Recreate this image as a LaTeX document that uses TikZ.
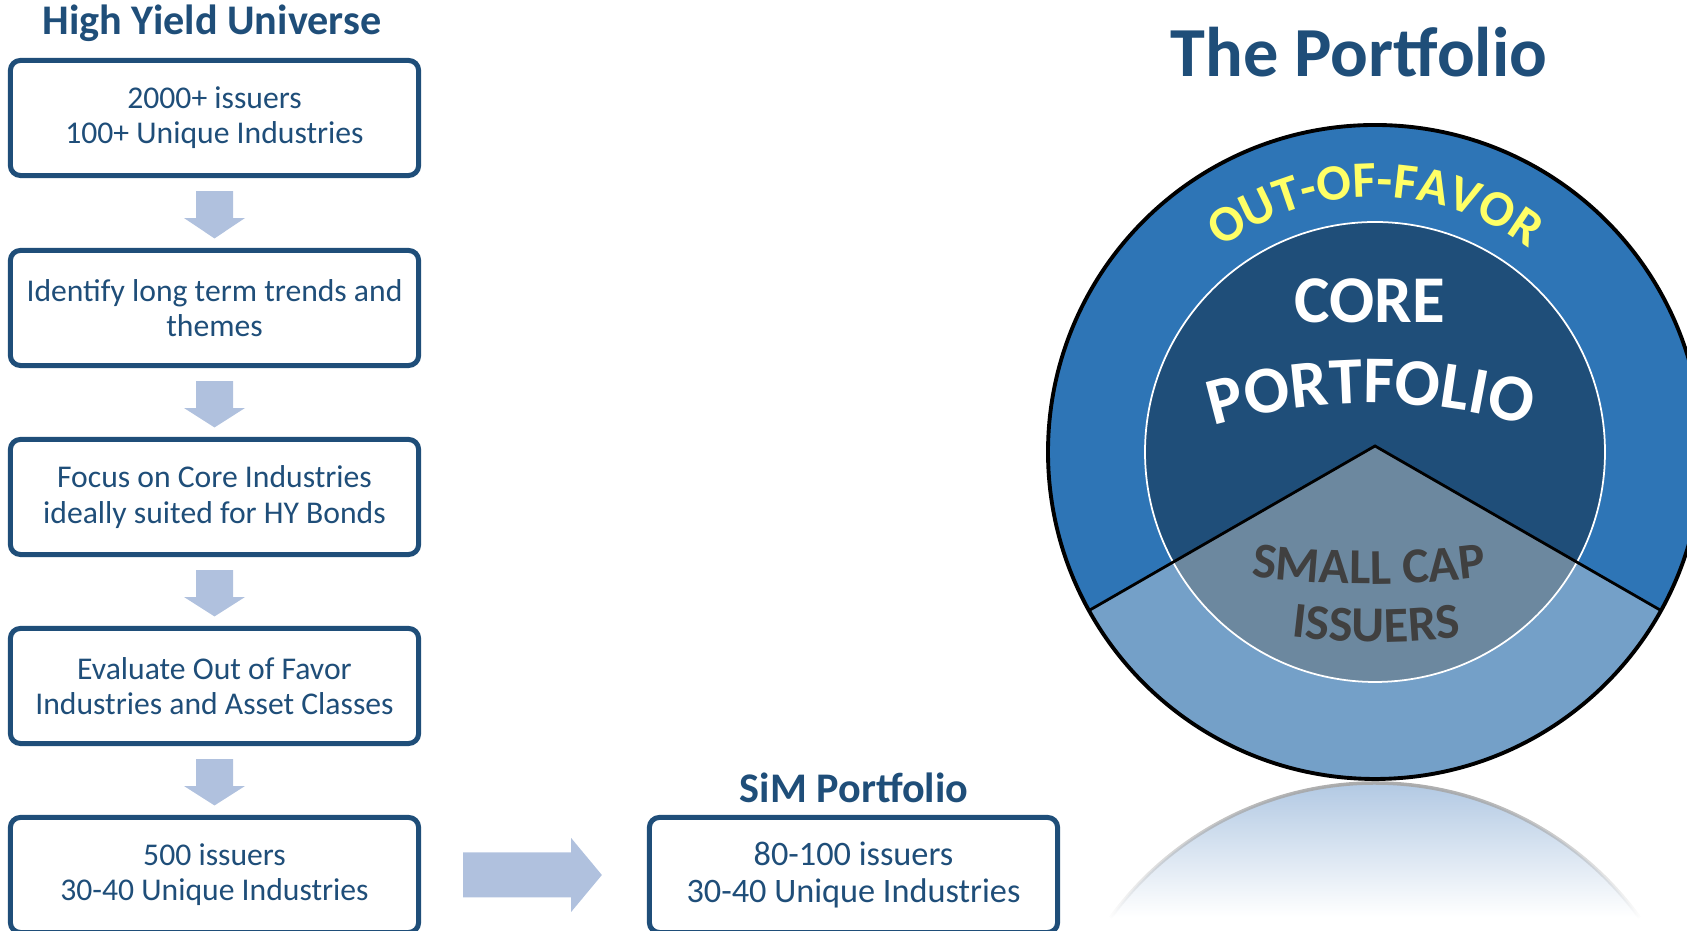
\documentclass[tikz,border=0pt]{standalone}
\usepackage{fontspec}
\setmainfont{Carlito}
\usetikzlibrary{calc,decorations.text,fadings}

\definecolor{boxblue}{HTML}{1F4E79}
\definecolor{arrowblue}{HTML}{B0C1DE}
\definecolor{ringblue}{HTML}{2E75B6}
\definecolor{coreblue}{HTML}{1F4E79}
\definecolor{lightring}{HTML}{74A0C8}
\definecolor{wedgegrey}{HTML}{6C889F}
\definecolor{favoryellow}{HTML}{FFFF66}
\definecolor{capgrey}{HTML}{404040}
\definecolor{reflblue}{HTML}{B2C9E3}

\tikzfading[name=fadedown, top color=transparent!0, bottom color=transparent!100]

\newcommand\favorfont{\fontsize{14.5}{14.5}\selectfont\bfseries}
\newcommand\corefont{\fontsize{19}{19}\selectfont\bfseries}
\newcommand\capfont{\fontsize{14.3}{14.3}\selectfont\bfseries}

\def\flowdown(#1)(#2){\fill[arrowfill] ($(#1.south)+(-18.5,-13)$) -- ($(#1.south)+(18.5,-13)$) -- ($(#1.south)+(18.5,-40)$) -- ($(#1.south)+(30.5,-40)$) -- ($(#2.north)+(0,9.5)$) -- ($(#1.south)+(-30.5,-40)$) -- ($(#1.south)+(-18.5,-40)$) -- cycle;}
\def\flowright(#1)(#2){\fill[arrowfill] ($(#1.east)+(42,22.5)$) -- ($(#1.east)+(150,22.5)$) -- ($(#1.east)+(150,37)$) -- ($(#2.west)+(-45,0)$) -- ($(#1.east)+(150,-37)$) -- ($(#1.east)+(150,-22.5)$) -- ($(#1.east)+(42,-22.5)$) -- cycle;}

\begin{document}
\begin{tikzpicture}[x=0.01cm, y=0.01cm,
	flowbox/.style={draw=boxblue, line width=1.42pt, rounded corners=0.1cm, fill=white, minimum width=4.08cm, minimum height=1.15cm, inner sep=0pt, align=center, text=boxblue, font=\fontsize{9}{10}\selectfont},
	headtext/.style={text=boxblue, font=\fontsize{12}{14}\selectfont\bfseries, anchor=base},
	arrowfill/.style={fill=arrowblue}]
			%%%%% START %%%%%
			
			\useasboundingbox (0, 0) rectangle (1687, 931);
			
			\node[headtext] (hytitle) at (212, 896) {High Yield Universe};
			\node[flowbox] (universe) at (214.5, 813) {2000+ issuers\\100+ Unique Industries};
			\node[flowbox] (trends) at (214.5, 623) {Identify long term trends and\\themes};
			\node[flowbox] (coreind) at (214.5, 434) {Focus on Core Industries\\ideally suited for HY Bonds};
			\node[flowbox] (outfavor) at (214.5, 245) {Evaluate Out of Favor\\Industries and Asset Classes};
			\node[flowbox] (shortlist) at (214.5, 56) {500 issuers\\30-40 Unique Industries};
			
			\flowdown(universe)(trends)
			\flowdown(trends)(coreind)
			\flowdown(coreind)(outfavor)
			\flowdown(outfavor)(shortlist)
			
			\node[headtext] (simtitle) at (854, 128) {SiM Portfolio};
			\node[flowbox, font=\fontsize{9.75}{10.5}\selectfont] (simport) at (853.5, 56) {80-100 issuers\\30-40 Unique Industries};
			\flowright(shortlist)(simport)
			
			\node[headtext, font=\fontsize{20}{22}\selectfont\bfseries] (porttitle) at (1359, 854) {The Portfolio};
			
			% circle
			\coordinate (C) at (1375, 479);
			\coordinate (A) at (1375, 485);
			\fill[ringblue] (C) circle (327);
			\fill[lightring] (A) -- ($(C)+(209:327)$) arc[start angle=209, end angle=331, radius=327] -- cycle;
			\fill[coreblue] (C) circle (230);
			\begin{scope}
				\clip (C) circle (230);
				\fill[wedgegrey] (A) -- ($(C)+(209:327)$) arc[start angle=209, end angle=331, radius=327] -- cycle;
			\end{scope}
			\draw[white, line width=0.5pt] (C) circle (230);
			\draw[black, line width=0.8pt] ($(C)+(209:327)$) -- (A) -- ($(C)+(331:327)$);
			\draw[black, line width=1.1pt] (C) circle (327);
			
			% reflection
			\coordinate (R) at (1375, -179);
			\begin{scope}
				\clip (R) circle (327);
				\shade[top color=reflblue, bottom color=white] (1040, 14) rectangle (1710, 148);
			\end{scope}
			\draw[gray!70, line width=1pt, path fading=fadedown] ($(R)+(36:327)$) arc[start angle=36, end angle=144, radius=327];
			
			% texts in the circle
			\path[decorate, decoration={text along path, text align=center, text color=favoryellow, text={|\favorfont|OUT-OF-FAVOR}}] ($(C)+(160:255)$) arc[start angle=160, end angle=20, radius=255];
			\node[white, font=\corefont, anchor=base] (coretext) at (1370, 608) {CORE};
			\path[decorate, decoration={text along path, text align=center, text color=white, text={|\corefont|PORTFOLIO}}] ($(1371, -29)+(120:557)$) arc[start angle=120, end angle=60, radius=557];
			\path[decorate, decoration={text along path, text align=center, text color=capgrey, text={|\capfont|SMALL CAP}}] ($(1369, 1247)+(255:900)$) arc[start angle=255, end angle=285, radius=900];
			\path[decorate, decoration={text along path, text align=center, text color=capgrey, text={|\capfont|ISSUERS}}] ($(1376, 989)+(255:700)$) arc[start angle=255, end angle=285, radius=700];
			
			%%%%% END %%%%%
\end{tikzpicture}
\end{document}
